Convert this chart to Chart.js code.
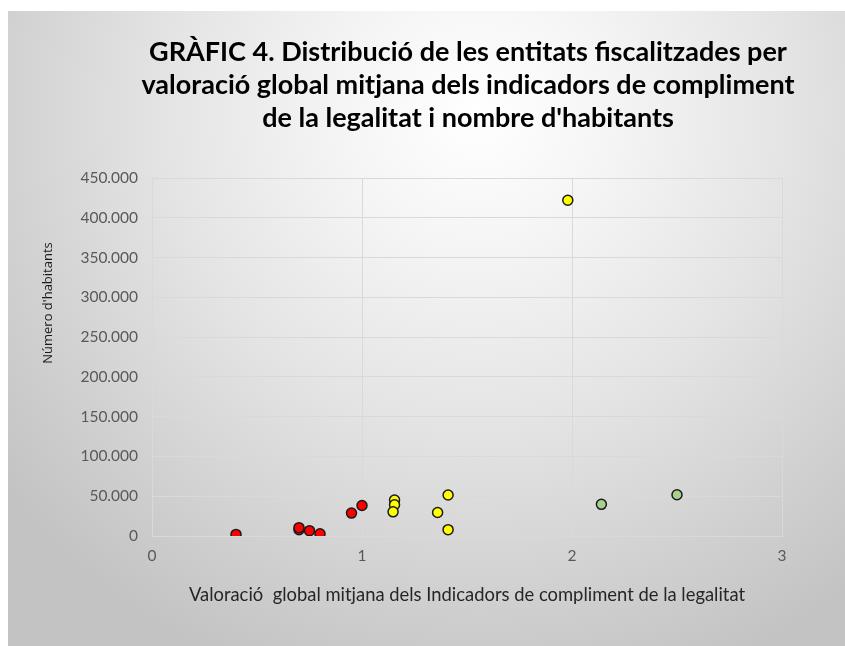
<!DOCTYPE html>
<html>
<head>
<meta charset="utf-8">
<script src="https://cdn.jsdelivr.net/npm/chart.js@4"></script>
<style>
  html, body { margin: 0; padding: 0; background: #ffffff; }
  #wrap { position: relative; width: 845px; height: 646px; overflow: hidden; }
  #bg { position: absolute; left: 8px; top: 11px; width: 837px; height: 635px;
        background: radial-gradient(ellipse 72% 95% at 56% 16%, #ffffff 0%, #f5f5f5 22%, #e4e4e4 52%, #cfcfcf 82%, #c3c3c3 100%); }
  canvas { position: absolute; left: 0; top: 0; }
</style>
</head>
<body>
<div id="wrap">
  <div id="bg"></div>
  <canvas id="c" width="845" height="646"></canvas>
</div>
<script>
// ---- Data ----
const titleLines = [
  "GRÀFIC 4. Distribució de les entitats fiscalitzades per",
  "valoració global mitjana dels indicadors de compliment",
  "de la legalitat i nombre d'habitants"
];
const xAxisTitle = "Valoració  global mitjana dels Indicadors de compliment de la legalitat";
const yAxisTitle = "Número d'habitants";

const redX    = [0.40, 0.70, 0.70, 0.75, 0.80, 0.95, 1.00];
const redY    = [2000, 8000, 10500, 6700, 2900, 28800, 38400];
const yellowX = [1.155, 1.155, 1.148, 1.36, 1.41, 1.41, 1.98];
const yellowY = [45200, 39300, 30400, 29500, 51600, 8000, 422000];
const greenX  = [2.14, 2.50];
const greenY  = [39800, 51900];

const xTicks = [0, 1, 2, 3];
const yTicks = [0, 50000, 100000, 150000, 200000, 250000, 300000, 350000, 400000, 450000];

function pts(xs, ys) { return xs.map((x, i) => ({ x: x, y: ys[i] })); }
function fmtThousands(v) { return String(v).replace(/\B(?=(\d{3})+(?!\d))/g, '.'); }

const pointStyle = (fill) => ({
  backgroundColor: fill,
  borderColor: '#1a1a1a',
  borderWidth: 1.5,
  pointRadius: 5,
  pointHoverRadius: 5,
  showLine: false
});

// chart title and y-axis title drawn as text on the canvas at their reference positions
const textPlugin = {
  id: 'texts',
  afterDraw(chart) {
    const ctx = chart.ctx;
    ctx.save();
    ctx.font = 'bold 27px Lato';
    ctx.fillStyle = '#000000';
    ctx.textAlign = 'center';
    ctx.textBaseline = 'middle';
    titleLines.forEach((line, i) => ctx.fillText(line, 468, 52 + i * 33));
    ctx.restore();

    ctx.save();
    ctx.translate(48, 303);
    ctx.rotate(-Math.PI / 2);
    ctx.font = '13px "Open Sans"';
    ctx.fillStyle = '#1a1a1a';
    ctx.textAlign = 'center';
    ctx.textBaseline = 'middle';
    ctx.fillText(yAxisTitle, 0, 0);
    ctx.restore();
  }
};

new Chart(document.getElementById('c'), {
  type: 'scatter',
  data: {
    datasets: [
      Object.assign({ label: 'verd', data: pts(greenX, greenY) }, pointStyle('#A9D18E')),
      Object.assign({ label: 'groc', data: pts(yellowX, yellowY) }, pointStyle('#FFFF00')),
      Object.assign({ label: 'vermell', data: pts(redX, redY) }, pointStyle('#FF0000'))
    ]
  },
  plugins: [textPlugin],
  options: {
    responsive: false,
    animation: false,
    devicePixelRatio: 1,
    layout: { padding: { left: 0, right: 63, top: 178, bottom: 0 } },
    plugins: {
      legend: { display: false },
      tooltip: { enabled: false },
      title: { display: false }
    },
    scales: {
      x: {
        type: 'linear',
        min: 0, max: 3,
        afterBuildTicks(scale) { scale.ticks = xTicks.map(v => ({ value: v })); },
        afterFit(scale) { scale.height = 110; },
        grid: { color: '#d9d9d9', lineWidth: 1, drawTicks: false },
        border: { color: '#d9d9d9', width: 1 },
        ticks: { color: '#595959', font: { family: 'Lato', size: 15.5 }, padding: 11, maxRotation: 0 },
        title: {
          display: true,
          text: xAxisTitle,
          color: '#262626',
          font: { family: 'Lato', size: 18.4, lineHeight: 1.2 },
          padding: { top: 0, bottom: 40 }
        }
      },
      y: {
        type: 'linear',
        min: 0, max: 450000,
        afterBuildTicks(scale) { scale.ticks = yTicks.map(v => ({ value: v })); },
        afterFit(scale) { scale.width = 152; },
        grid: { color: '#d9d9d9', lineWidth: 1, drawTicks: false },
        border: { color: '#d9d9d9', width: 1 },
        ticks: {
          color: '#595959', font: { family: 'Lato', size: 15.5 }, padding: 14,
          callback: (v) => fmtThousands(v)
        }
      }
    }
  }
});
</script>
</body>
</html>
